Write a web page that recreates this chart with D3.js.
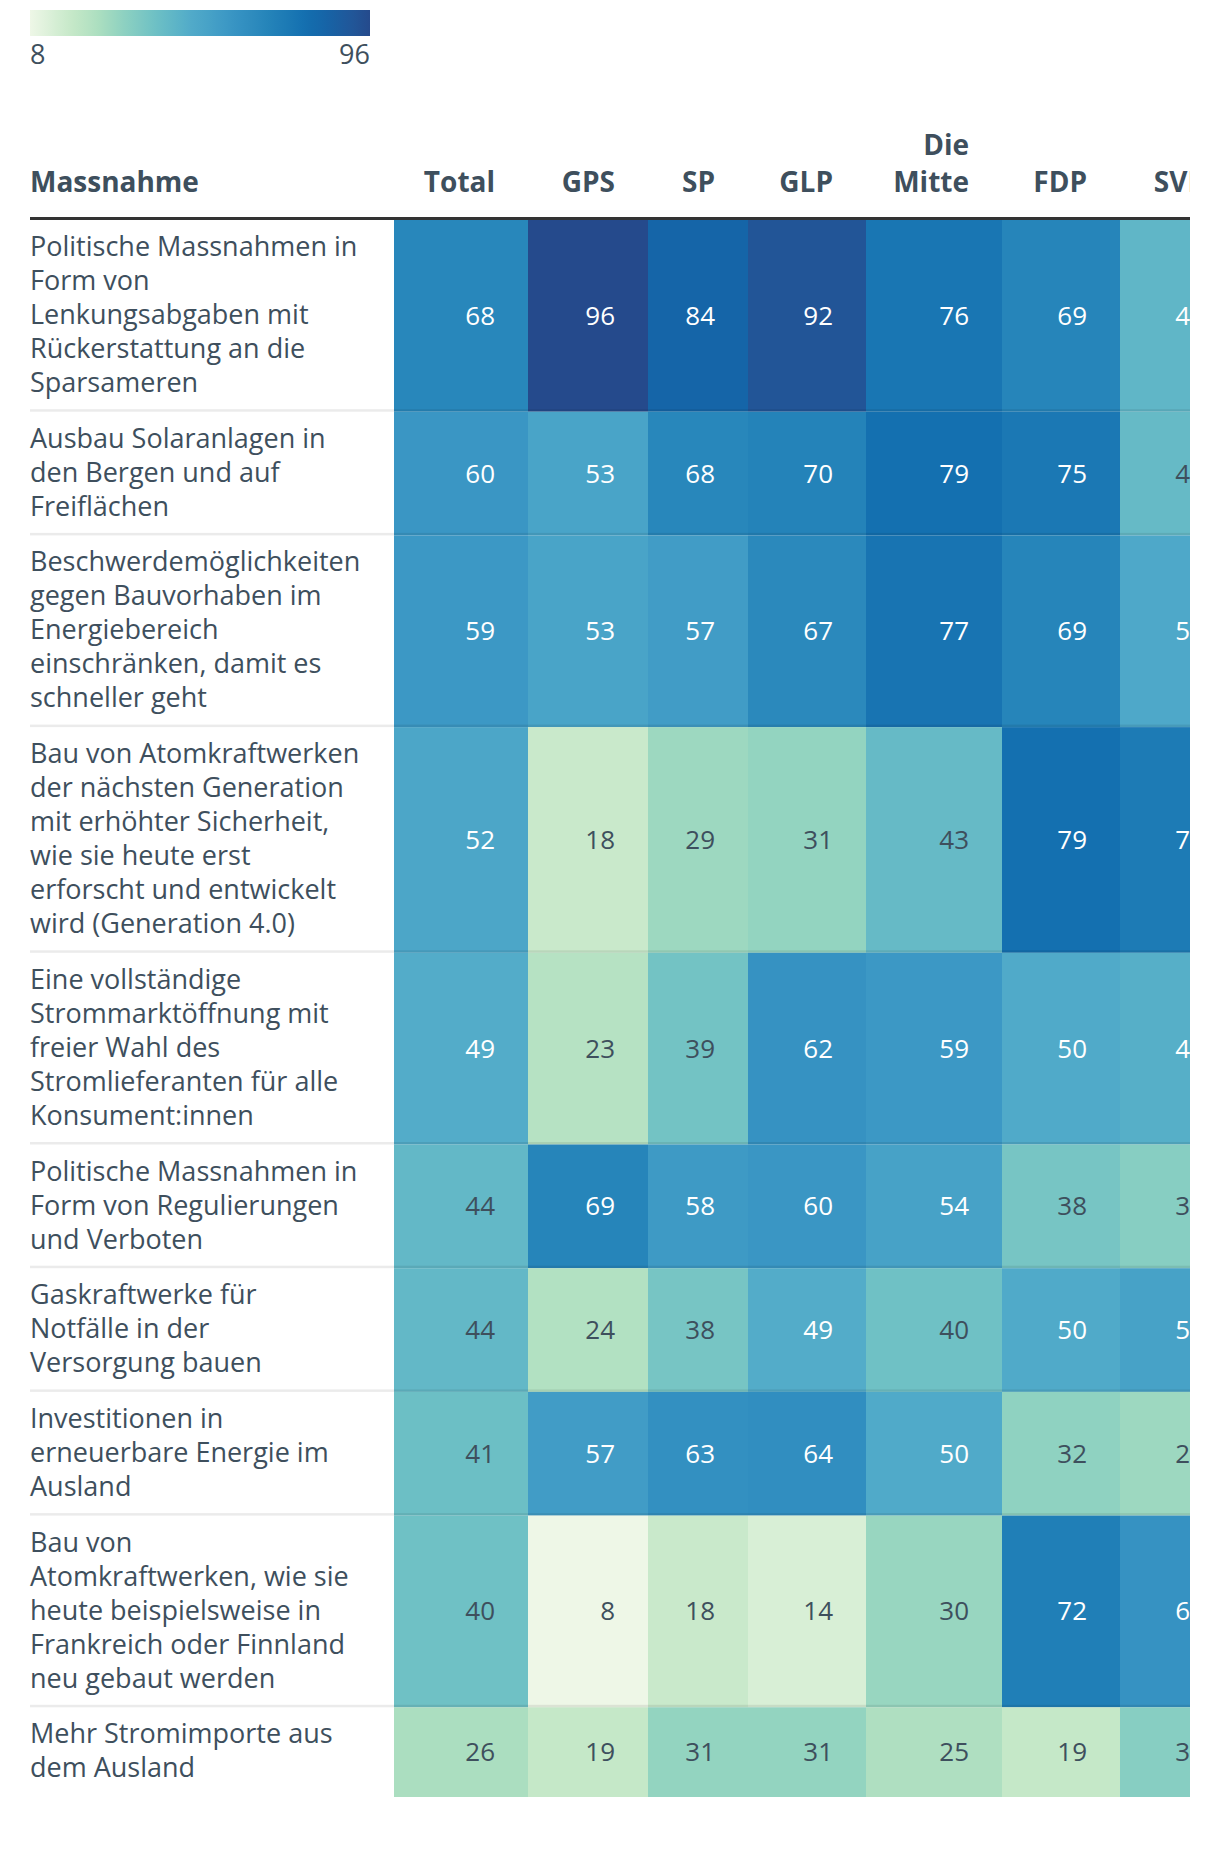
<!DOCTYPE html>
<html><head><meta charset="utf-8">
<script src="https://cdn.jsdelivr.net/npm/d3@7/dist/d3.min.js"></script>
<style>html,body{margin:0;padding:0;background:#fff;} svg{display:block;}</style>
</head><body>
<svg id="chart" width="1220" height="1850"></svg>
<script>
// ---------- DATA ----------
const headerTitle = "Massnahme";
const columns = ["Total", "GPS", "SP", "GLP", "Die\nMitte", "FDP", "SVP"];
const measures = [
  "Politische Massnahmen in\nForm von\nLenkungsabgaben mit\nRückerstattung an die\nSparsameren",
  "Ausbau Solaranlagen in\nden Bergen und auf\nFreiflächen",
  "Beschwerdemöglichkeiten\ngegen Bauvorhaben im\nEnergiebereich\neinschränken, damit es\nschneller geht",
  "Bau von Atomkraftwerken\nder nächsten Generation\nmit erhöhter Sicherheit,\nwie sie heute erst\nerforscht und entwickelt\nwird (Generation 4.0)",
  "Eine vollständige\nStrommarktöffnung mit\nfreier Wahl des\nStromlieferanten für alle\nKonsument:innen",
  "Politische Massnahmen in\nForm von Regulierungen\nund Verboten",
  "Gaskraftwerke für\nNotfälle in der\nVersorgung bauen",
  "Investitionen in\nerneuerbare Energie im\nAusland",
  "Bau von\nAtomkraftwerken, wie sie\nheute beispielsweise in\nFrankreich oder Finnland\nneu gebaut werden",
  "Mehr Stromimporte aus\ndem Ausland"
];
const total = [68, 60, 59, 52, 49, 44, 44, 41, 40, 26];
const gps   = [96, 53, 53, 18, 23, 69, 24, 57,  8, 19];
const sp    = [84, 68, 57, 29, 39, 58, 38, 63, 18, 31];
const glp   = [92, 70, 67, 31, 62, 60, 49, 64, 14, 31];
const mitte = [76, 79, 77, 43, 59, 54, 40, 50, 30, 25];
const fdp   = [69, 75, 69, 79, 50, 38, 50, 32, 72, 19];
const svp   = [45, 43, 51, 74, 48, 34, 54, 29, 62, 34];
const legendTicks = [8, 96];

// colour palette anchors (value -> colour)
const colorStops  = [8, 19, 26, 31, 40, 50, 60, 70, 79, 84, 92, 96];
const colorValues = ["#eef7e7", "#c5e8c8", "#abdec0", "#93d4c0", "#6fc1c5", "#50aac9",
                     "#3a96c4", "#2483b9", "#1470b0", "#1565a8", "#225597", "#254a8c"];

// ---------- LAYOUT ----------
const series = [total, gps, sp, glp, mitte, fdp, svp];
const colWidths = [134, 120, 100, 118, 136, 118, 118];
const tableLeft = 30, cellsLeft = 394, clipRight = 1190;
const headerLineY = 217, headerLineH = 3;
const bodyTop = 220, lineH = 34, rowPad = 21.7;
const fontFamily = "'Open Sans', 'Noto Sans', sans-serif";
const textColor = "#3e4f5d";
const bodySize = 27, numSize = 26, headSize = 28;

const svg = d3.select("#chart");
svg.append("defs").append("clipPath").attr("id", "clip")
  .append("rect").attr("x", 0).attr("y", 0).attr("width", clipRight).attr("height", 1850);

const color = d3.scaleLinear().domain(colorStops).range(colorValues).interpolate(d3.interpolateRgb).clamp(true);

// ----- legend -----
const legX = d3.scaleLinear().domain(d3.extent(legendTicks)).range([30, 370]);
const grad = svg.select("defs").append("linearGradient").attr("id", "lg")
  .attr("x1", "0%").attr("x2", "100%").attr("y1", "0%").attr("y2", "0%");
const nSt = 40;
d3.range(nSt + 1).forEach(i => {
  const v = legendTicks[0] + (legendTicks[1] - legendTicks[0]) * i / nSt;
  grad.append("stop").attr("offset", (i / nSt * 100) + "%").attr("stop-color", color(v));
});
svg.append("rect").attr("x", legX(legendTicks[0])).attr("y", 10)
  .attr("width", legX(legendTicks[1]) - legX(legendTicks[0])).attr("height", 26)
  .attr("fill", "url(#lg)");
svg.selectAll("text.leg").data(legendTicks).join("text").attr("class", "leg")
  .attr("x", d => legX(d)).attr("y", 64)
  .attr("text-anchor", (d, i) => i === 0 ? "start" : "end")
  .attr("font-family", fontFamily).attr("font-size", 27).attr("fill", textColor)
  .text(d => d);

// ----- table -----
const g = svg.append("g").attr("clip-path", "url(#clip)");
const colX = [];
let cx = cellsLeft;
colWidths.forEach(w => { colX.push(cx); cx += w; });

// header
const headG = g.append("g").attr("font-family", fontFamily).attr("font-weight", 700)
  .attr("font-size", headSize).attr("fill", textColor);
headG.append("text").attr("x", tableLeft).attr("y", 192).text(headerTitle);
columns.forEach((c, j) => {
  const lines = c.split("\n");
  const t = headG.append("text").attr("text-anchor", "end")
    .attr("x", colX[j] + colWidths[j] - 33);
  lines.forEach((ln, k) => {
    t.append("tspan").attr("x", colX[j] + colWidths[j] - 33)
      .attr("y", 192 - (lines.length - 1 - k) * 37).text(ln);
  });
});
g.append("rect").attr("x", tableLeft).attr("y", headerLineY)
  .attr("width", clipRight - tableLeft).attr("height", headerLineH).attr("fill", "#333");

// rows
const rows = [];
let y = bodyTop;
measures.forEach((m, i) => {
  const lines = m.split("\n");
  const h = lines.length * lineH + rowPad;
  rows.push({ label: lines, top: y, h: h, i: i });
  y += h;
});

const rowG = g.selectAll("g.row").data(rows).join("g").attr("class", "row");
series.forEach((s, j) => {
  rowG.append("rect")
    .attr("x", colX[j]).attr("y", d => d.top)
    .attr("width", colWidths[j]).attr("height", d => d.h)
    .attr("fill", d => color(s[d.i]));
  rowG.append("text")
    .attr("x", colX[j] + colWidths[j] - 33)
    .attr("y", d => d.top + d.h / 2 + 9)
    .attr("text-anchor", "end")
    .attr("font-family", fontFamily).attr("font-size", numSize)
    .attr("fill", d => s[d.i] >= 45 ? "#ffffff" : textColor)
    .text(d => s[d.i]);
});
rowG.each(function(d) {
  const t = d3.select(this).append("text").attr("font-family", fontFamily)
    .attr("font-size", bodySize).attr("fill", textColor);
  d.label.forEach((ln, k) => {
    t.append("tspan").attr("x", tableLeft).attr("y", d.top + 36 + k * lineH).text(ln);
  });
});
// separators
g.selectAll("rect.sep").data(rows.slice(0, -1)).join("rect").attr("class", "sep")
  .attr("x", tableLeft).attr("y", d => d.top + d.h - 2.5)
  .attr("width", clipRight - tableLeft).attr("height", 2.5)
  .attr("fill", "rgba(0,0,0,0.08)");
</script>
</body></html>
